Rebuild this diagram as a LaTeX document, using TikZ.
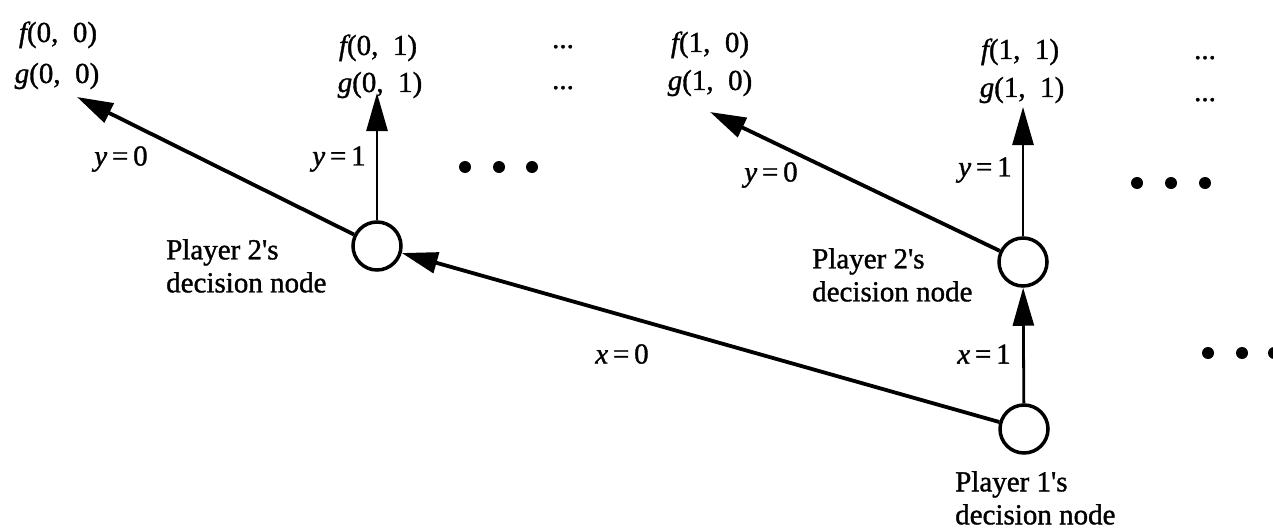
\documentclass[tikz,border=0pt]{standalone}
\usepackage{fontspec}
\setmainfont{Liberation Serif}[FakeBold=1.2]
\newfontfamily\itfont{Liberation Serif Italic}[FakeBold=1.2]
\usetikzlibrary{arrows.meta}
\tikzset{
  dnode/.style={circle,draw,line width=3.5pt,minimum size=48pt,inner sep=0pt,fill=white},
  lbl/.style={inner sep=0pt,font=\fontsize{29}{33}\selectfont},
  txt/.style={inner sep=0pt,font=\fontsize{29}{33}\selectfont,align=left,anchor=north west},
  diag/.style={line width=3.8pt,-{Triangle[length=36pt,width=21pt]}},
  vert/.style={line width=2.8pt,-{Triangle[length=38pt,width=21pt]}},
  bigdot/.style={circle,fill=black,inner sep=0pt,minimum size=12pt},
}
\newcommand{\apos}{\textquotesingle}
\newcommand{\iv}[1]{{\itfont #1}}
\begin{document}
\begin{tikzpicture}[x=1pt,y=-1pt]
\useasboundingbox (0,0) rectangle (1273,532);
% decision nodes
\node[dnode] (P2a) at (377,246) {};
\node[dnode] (P2b) at (1023,262) {};
\node[dnode] (P1) at (1024,429) {};
% arrow tips
\coordinate (tA) at (77,97);
\coordinate (tB) at (377,93);
\coordinate (tC) at (710,112);
\coordinate (tD) at (1023,107);
% connectors
\draw[diag] (P1) -- (P2a);
\draw[vert] (P1) -- (P2b);
\draw[diag] (P2a) -- (tA);
\draw[vert] (P2a) -- (tB);
\draw[diag] (P2b) -- (tC);
\draw[vert] (P2b) -- (tD);
% payoffs
\node[lbl,anchor=base] (f00) at (58,42) {\iv{f}(0,\ \ 0)};
\node[lbl,anchor=base] (g00) at (57,83) {\iv{g}(0,\ \ 0)};
\node[lbl,anchor=base] (f01) at (378,55) {\iv{f}(0,\ \ 1)};
\node[lbl,anchor=base] (g01) at (380,92) {\iv{g}(0,\ \ 1)};
\node[lbl,anchor=base] (e1) at (563,48) {...};
\node[lbl,anchor=base] (e2) at (563,89) {...};
\node[lbl,anchor=base] (f10) at (710,52) {\iv{f}(1,\ \ 0)};
\node[lbl,anchor=base] (g10) at (710,90) {\iv{g}(1,\ \ 0)};
\node[lbl,anchor=base] (f11) at (1020,59) {\iv{f}(1,\ \ 1)};
\node[lbl,anchor=base] (g11) at (1022,97) {\iv{g}(1,\ \ 1)};
\node[lbl,anchor=base] (e3) at (1205,59) {...};
\node[lbl,anchor=base] (e4) at (1205,101) {...};
% edge labels
\node[lbl] (ly0a) at (121,159) {\iv{y}\,=\,0};
\node[lbl] (ly1a) at (339,159) {\iv{y}\,=\,1};
\node[lbl] (ly0b) at (771,175) {\iv{y}\,=\,0};
\node[lbl] (ly1b) at (985,170) {\iv{y}\,=\,1};
\node[lbl] (lx0) at (622,354) {\iv{x}\,=\,0};
\node[lbl] (lx1) at (984,354) {\iv{x}\,=\,1};
% node labels
\node[txt] (t2a) at (166,239) {Player 2\apos s\\decision node};
\node[txt] (t2b) at (812,248) {Player 2\apos s\\decision node};
\node[txt] (t1) at (955,471) {Player 1\apos s\\decision node};
% continuation dots
\node[bigdot] (d1) at (465,167) {};
\node[bigdot] (d2) at (499,167) {};
\node[bigdot] (d3) at (532,167) {};
\node[bigdot] (d4) at (1137,183) {};
\node[bigdot] (d5) at (1171,183) {};
\node[bigdot] (d6) at (1205,183) {};
\node[bigdot] (d7) at (1208,353) {};
\node[bigdot] (d8) at (1242,353) {};
\node[bigdot] (d9) at (1274,353) {};
\end{tikzpicture}
\end{document}
